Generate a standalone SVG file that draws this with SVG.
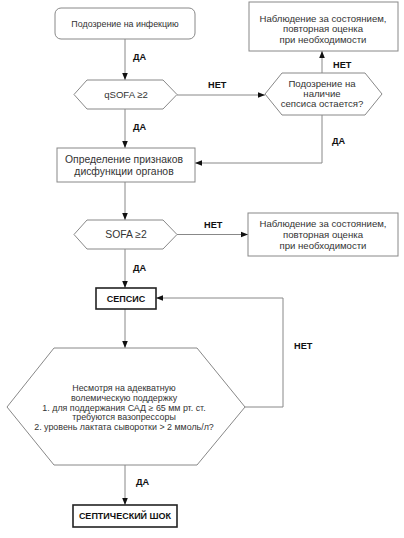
<svg xmlns="http://www.w3.org/2000/svg" width="404" height="538" viewBox="0 0 404 538">
<defs>
<marker id="ah" viewBox="0 0 10 10" refX="10" refY="5" markerWidth="7" markerHeight="7" markerUnits="userSpaceOnUse" orient="auto"><path d="M0,1 L10,5 L0,9 Z" fill="#111"/></marker>
</defs>
<style>
.box{fill:#fff;stroke:#888;stroke-width:1}
.bold{fill:#fff;stroke:#222;stroke-width:1.6}
.t{font-family:"Liberation Sans",Arial,sans-serif;font-size:9.6px;fill:#333;text-anchor:middle}
.ts{font-family:"Liberation Sans",Arial,sans-serif;font-size:8.9px;fill:#333;text-anchor:middle}
.tl{font-family:"Liberation Sans",Arial,sans-serif;font-size:10.4px;fill:#333;text-anchor:middle}
.tb{font-family:"Liberation Sans",Arial,sans-serif;font-size:9px;font-weight:bold;fill:#111;text-anchor:middle}
.lab{font-family:"Liberation Sans",Arial,sans-serif;font-size:9.2px;font-weight:bold;fill:#111}
.c{fill:none;stroke:#888;stroke-width:1;marker-end:url(#ah)}
</style>
<rect width="404" height="538" fill="#fff"/>
<g id="connectors">
<path class="c" d="M125,39 V80"/>
<path class="c" d="M177,95 H265"/>
<path class="c" d="M322,73 V51"/>
<path class="c" d="M125,109 V148"/>
<path class="c" d="M322,115 V163 H195"/>
<path class="c" d="M125,182 V220"/>
<path class="c" d="M177,234.5 H248"/>
<path class="c" d="M125,249 V288"/>
<path class="c" d="M125,309 V348"/>
<path class="c" d="M245,407 H283 V298 H156"/>
<path class="c" d="M125,465 V505"/>
<text class="lab" x="133" y="60">ДА</text>
<text class="lab" x="208" y="88">НЕТ</text>
<text class="lab" x="333" y="68">НЕТ</text>
<text class="lab" x="133" y="130">ДА</text>
<text class="lab" x="332" y="144">ДА</text>
<text class="lab" x="204" y="228">НЕТ</text>
<text class="lab" x="133" y="271">ДА</text>
<text class="lab" x="294" y="349">НЕТ</text>
<text class="lab" x="136" y="485">ДА</text>
</g>
<g id="start">
<rect class="box" x="55" y="8" width="140" height="31" rx="6"/>
<text class="ts" x="125" y="27">Подозрение на инфекцию</text>
</g>
<g id="qsofa">
<polygon class="box" points="87,80 163,80 177,94.5 163,109 87,109 74,94.5"/>
<text class="t" x="126" y="98">qSOFA ≥2</text>
</g>
<g id="suspect">
<polygon class="box" points="282,73 365,73 382,94 365,115 282,115 265,94"/>
<text class="t" x="322" y="87">Подозрение на</text>
<text class="t" x="322" y="97">наличие</text>
<text class="t" x="322" y="107">сепсиса остается?</text>
</g>
<g id="observe1">
<rect class="box" x="249" y="2" width="149" height="49"/>
<text class="t" x="323" y="22">Наблюдение за состоянием,</text>
<text class="t" x="323" y="32">повторная оценка</text>
<text class="t" x="323" y="43">при необходимости</text>
</g>
<g id="organs">
<rect class="box" x="57" y="148" width="138" height="34"/>
<text class="tl" x="124" y="162.5">Определение признаков</text>
<text class="tl" x="124" y="174.5">дисфункции органов</text>
</g>
<g id="sofa">
<polygon class="box" points="87,220 163,220 177,234.5 163,249 87,249 74,234.5"/>
<text class="tl" x="126" y="238">SOFA ≥2</text>
</g>
<g id="observe2">
<rect class="box" x="248" y="213" width="150" height="43"/>
<text class="t" x="323" y="227">Наблюдение за состоянием,</text>
<text class="t" x="323" y="238">повторная оценка</text>
<text class="t" x="323" y="249">при необходимости</text>
</g>
<g id="sepsis">
<rect class="bold" x="96" y="288" width="60" height="21"/>
<text class="tb" x="126" y="301.5">СЕПСИС</text>
</g>
<g id="shock-check">
<polygon class="box" points="54,348 197,348 245,407 197,465 54,465 7,407"/>
<text class="ts" x="124" y="391">Несмотря на адекватную</text>
<text class="ts" x="124" y="401">волемическую поддержку</text>
<text class="ts" x="124" y="411">1. для поддержания САД ≥ 65 мм рт. ст.</text>
<text class="ts" x="124" y="420">требуются вазопрессоры</text>
<text class="ts" x="124" y="430">2. уровень лактата сыворотки &gt; 2 ммоль/л?</text>
</g>
<g id="shock">
<rect class="bold" x="73" y="505" width="104" height="22"/>
<text class="tb" x="125" y="519">СЕПТИЧЕСКИЙ ШОК</text>
</g>
</svg>
